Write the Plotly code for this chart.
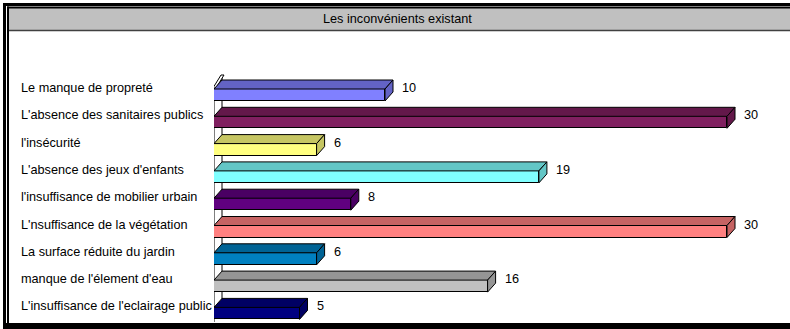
import plotly.graph_objects as go

# ---------------- data ----------------
categories = [
    "Le manque de propreté",
    "L'absence des sanitaires publics",
    "l'insécurité",
    "L'absence des jeux d'enfants",
    "l'insuffisance de mobilier urbain",
    "L'nsuffisance de la végétation",
    "La surface réduite du jardin",
    "manque de l'élement d'eau",
    "L'insuffisance de l'eclairage public",
]
values = [10, 30, 6, 19, 8, 30, 6, 16, 5]
front_colors = ["#8080FF", "#802060", "#FFFF80", "#80FFFF", "#600080",
                "#FF8080", "#0080C0", "#C0C0C0", "#000080"]
title_text = "Les inconvénients existant"

# ---------------- geometry helpers ----------------
W, H = 790, 329
X0_PX = 214          # pixel of value 0
PX_PER_UNIT = 17.1   # pixels per value unit
ROW0_PX = 95         # pixel centre of first bar front face
ROW_PX = 27.3        # pixels per category step
PLOT_TOP, PLOT_BOT = 60, 323

def px2x(px):
    return (px - X0_PX) / PX_PER_UNIT

def px2y(py):
    return (py - ROW0_PX) / ROW_PX

def PX(px):
    return px / W

def PY(py):
    return 1 - py / H

def darker(hexcol, f=0.78):
    h = hexcol.lstrip("#")
    r, g, b = (int(h[i:i + 2], 16) for i in (0, 2, 4))
    return "#%02X%02X%02X" % (int(r * f), int(g * f), int(b * f))

bar_h = 12 / ROW_PX       # front face thickness (category units)
dx = 8 / PX_PER_UNIT      # depth offset in x
dy = 9 / ROW_PX           # depth offset in y (upwards)

font_family = "Liberation Sans, Arial, sans-serif"
FS = 12.7
idx = list(range(len(categories)))

fig = go.Figure()

# front faces
fig.add_trace(go.Bar(
    x=values, y=idx, orientation="h", width=bar_h, base=0,
    marker=dict(color=front_colors, line=dict(color="black", width=1)),
    hoverinfo="skip", showlegend=False,
))

# top and side faces
for i, (v, c) in enumerate(zip(values, front_colors)):
    yt = i - bar_h / 2
    yb = i + bar_h / 2
    dc = darker(c)
    fig.add_trace(go.Scatter(
        x=[0, dx, v + dx, v, 0], y=[yt, yt - dy, yt - dy, yt, yt],
        mode="lines", fill="toself", fillcolor=dc,
        line=dict(color="black", width=1), hoverinfo="skip", showlegend=False,
    ))
    fig.add_trace(go.Scatter(
        x=[v, v + dx, v + dx, v, v], y=[yt, yt - dy, yb - dy, yb, yt],
        mode="lines", fill="toself", fillcolor=dc,
        line=dict(color="black", width=1), hoverinfo="skip", showlegend=False,
    ))

shapes = []
# wall lines (behind bars)
shapes.append(dict(type="line", xref="x", yref="y", layer="below",
                   x0=px2x(214), x1=px2x(214), y0=px2y(87), y1=px2y(322),
                   line=dict(color="black", width=1)))
shapes.append(dict(type="line", xref="x", yref="y", layer="below",
                   x0=px2x(222), x1=px2x(222), y0=px2y(77), y1=px2y(312),
                   line=dict(color="black", width=1)))
# wall top edge
shapes.append(dict(type="path", xref="x", yref="y", layer="below",
                   path="M %f,%f L %f,%f L %f,%f L %f,%f Z" % (
                       px2x(213), px2y(88), px2x(216), px2y(88),
                       px2x(224), px2y(75), px2x(221), px2y(75)),
                   fillcolor="white", line=dict(color="black", width=1)))

# frame
def rect(x0, y0, x1, y1, color):
    return dict(type="rect", xref="paper", yref="paper",
                x0=PX(x0), x1=PX(x1), y0=PY(y0), y1=PY(y1),
                fillcolor=color, line=dict(width=0), layer="above")

shapes.append(dict(type="rect", xref="paper", yref="paper",
                   x0=PX(8), x1=PX(790), y0=PY(8), y1=PY(30),
                   fillcolor="#C0C0C0", line=dict(width=0), layer="below"))
shapes.append(dict(type="line", xref="paper", yref="paper",
                   x0=PX(8), x1=PX(790), y0=PY(30.5), y1=PY(30.5),
                   line=dict(color="#404040", width=1.5)))
shapes.append(rect(3, 3, 6, 329, "black"))
shapes.append(rect(3, 3, 790, 6, "black"))
shapes.append(rect(7, 6.5, 9, 323, "black"))
shapes.append(rect(7, 6.5, 790, 8.5, "black"))
shapes.append(rect(3, 323, 790, 329, "black"))

annotations = []
annotations.append(dict(text=title_text, xref="paper", yref="paper",
                        x=PX(397), y=PY(19.5), showarrow=False,
                        xanchor="center", yanchor="middle",
                        font=dict(family=font_family, size=FS, color="black")))
for i, (cat, v) in enumerate(zip(categories, values)):
    annotations.append(dict(text=cat, xref="paper", yref="y",
                            x=PX(19), y=i, yshift=7, showarrow=False,
                            xanchor="left", yanchor="middle",
                            font=dict(family=font_family, size=FS, color="black")))
    annotations.append(dict(text=str(v), xref="x", yref="y",
                            x=v, y=i, xshift=15, yshift=7, showarrow=False,
                            xanchor="left", yanchor="middle",
                            font=dict(family=font_family, size=FS, color="black")))

fig.update_layout(
    width=W, height=H,
    margin=dict(l=0, r=0, t=0, b=0, pad=0, autoexpand=False),
    paper_bgcolor="white", plot_bgcolor="rgba(0,0,0,0)",
    showlegend=False, bargap=0,
    shapes=shapes, annotations=annotations,
    xaxis=dict(domain=[PX(X0_PX), 1], range=[0, px2x(W)], visible=False,
               fixedrange=True),
    yaxis=dict(domain=[PY(PLOT_BOT), PY(PLOT_TOP)],
               range=[px2y(PLOT_BOT), px2y(PLOT_TOP)], visible=False,
               fixedrange=True),
)

fig.write_html("out.html", config={"displayModeBar": False})

# remove the default page margin and any scrollbars
css = ("<style>html,body{margin:0;padding:0;overflow:hidden;}"
       "::-webkit-scrollbar{display:none;width:0;height:0;}"
       ".plotly-graph-div{overflow:hidden;}</style>")
with open("out.html", "r", encoding="utf-8") as fh:
    html = fh.read()
html = html.replace("<head>", "<head>" + css, 1)
with open("out.html", "w", encoding="utf-8") as fh:
    fh.write(html)
